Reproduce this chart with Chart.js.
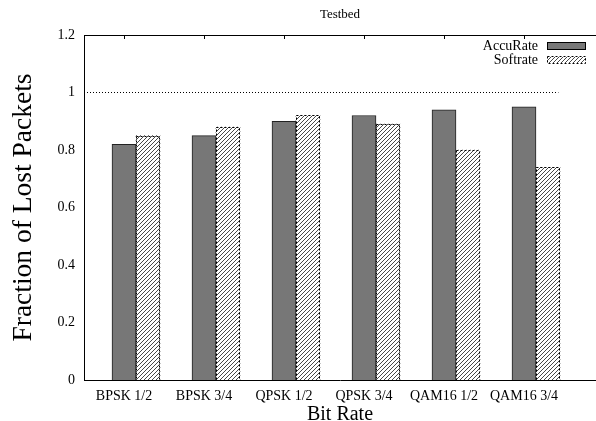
<!DOCTYPE html>
<html lang="en">
<head>
    <meta charset="UTF-8">
    <title>Testbed</title>
    <script src="https://cdn.jsdelivr.net/npm/chart.js"></script>
    <style>
        body { margin: 0; background: #fff; }
        .chart-box { width: 596px; height: 421px; }
    </style>
</head>
<body>
    <div class="chart-box">
        <canvas id="lossChart" width="596" height="421"></canvas>
    </div>

    <script>
        // data
        const categories = ['BPSK 1/2', 'BPSK 3/4', 'QPSK 1/2', 'QPSK 3/4', 'QAM16 1/2', 'QAM16 3/4'];
        const accuRate = [0.82, 0.85, 0.90, 0.92, 0.94, 0.95];
        const softRate = [0.85, 0.88, 0.92, 0.89, 0.80, 0.74];
        const refLineX = [-0.5, 5.43];
        const refLineY = 1;
        const yTicks = [0, 0.2, 0.4, 0.6, 0.8, 1, 1.2];

        const serif = "'Liberation Serif', 'Times New Roman', serif";

        function makeHatch() {
            const c = document.createElement('canvas');
            c.width = 4; c.height = 4;
            const g = c.getContext('2d');
            g.fillStyle = '#fff';
            g.fillRect(0, 0, 4, 4);
            g.strokeStyle = '#333';
            g.lineWidth = 0.9;
            g.beginPath();
            g.moveTo(0, 4); g.lineTo(4, 0);
            g.moveTo(-1, 1); g.lineTo(1, -1);
            g.moveTo(3, 5); g.lineTo(5, 3);
            g.stroke();
            return g.createPattern(c, 'repeat');
        }
        const hatch = makeHatch();

        // frame bits gnuplot draws that Chart.js doesn't: top border, inward ticks,
        // dashed outlines on hatched bars and the in-plot legend
        const framePlugin = {
            id: 'frame',
            beforeDatasetsDraw(chart) {
                const { ctx, chartArea, scales } = chart;
                ctx.save();
                ctx.strokeStyle = '#000';
                ctx.lineWidth = 1;
                ctx.beginPath();
                ctx.moveTo(chartArea.left, chartArea.top + 0.5);
                ctx.lineTo(chartArea.right, chartArea.top + 0.5);
                categories.forEach((c, i) => {
                    const px = Math.round(scales.x.getPixelForValue(i)) + 0.5;
                    ctx.moveTo(px, chartArea.top);
                    ctx.lineTo(px, chartArea.top + 4);
                    ctx.moveTo(px, chartArea.bottom);
                    ctx.lineTo(px, chartArea.bottom - 4);
                });
                ctx.stroke();
                ctx.restore();
            },
            afterDatasetsDraw(chart) {
                const { ctx } = chart;
                const meta = chart.getDatasetMeta(1);
                ctx.save();
                ctx.strokeStyle = '#000';
                ctx.lineWidth = 1;
                ctx.setLineDash([2, 2]);
                meta.data.forEach(bar => {
                    const { x, y, base, width } = bar.getProps(['x', 'y', 'base', 'width'], true);
                    ctx.strokeRect(Math.round(x - width / 2) + 0.5, Math.round(y) + 0.5, Math.round(width) - 1, Math.round(base - y));
                });
                ctx.restore();
            },
            afterDraw(chart) {
                const { ctx } = chart;
                const items = [
                    { label: chart.data.datasets[0].label, fill: chart.data.datasets[0].backgroundColor, dashed: false, y: 46 },
                    { label: chart.data.datasets[1].label, fill: hatch, dashed: true, y: 60 }
                ];
                ctx.save();
                ctx.font = '14px ' + serif;
                ctx.textAlign = 'right';
                ctx.textBaseline = 'middle';
                items.forEach(it => {
                    ctx.fillStyle = '#000';
                    ctx.fillText(it.label, 538, it.y);
                    ctx.fillStyle = it.fill;
                    ctx.fillRect(547, it.y - 3, 39, 6);
                    ctx.strokeStyle = '#000';
                    ctx.lineWidth = 1;
                    ctx.setLineDash(it.dashed ? [2, 2] : []);
                    ctx.strokeRect(547.5, it.y - 3.5, 38, 7);
                });
                ctx.restore();
            }
        };

        const ctx = document.getElementById('lossChart').getContext('2d');
        new Chart(ctx, {
            data: {
                datasets: [
                    {
                        type: 'bar',
                        label: 'AccuRate',
                        data: accuRate.map((v, i) => ({ x: i, y: v })),
                        backgroundColor: '#777777',
                        borderColor: '#222222',
                        borderWidth: 1,
                        barThickness: 24,
                        grouped: false
                    },
                    {
                        type: 'bar',
                        label: 'Softrate',
                        data: softRate.map((v, i) => ({ x: i + 0.3, y: v })),
                        backgroundColor: hatch,
                        borderWidth: 0,
                        barThickness: 24,
                        grouped: false
                    },
                    {
                        type: 'line',
                        label: 'ref',
                        data: refLineX.map(x => ({ x: x, y: refLineY })),
                        borderColor: '#000',
                        borderWidth: 1,
                        borderDash: [1, 2],
                        pointRadius: 0,
                        fill: false
                    }
                ]
            },
            options: {
                responsive: false,
                animation: false,
                layout: { padding: 0 },
                plugins: {
                    legend: { display: false },
                    tooltip: { enabled: false },
                    title: {
                        display: true,
                        fullSize: false,
                        text: 'Testbed',
                        color: '#000',
                        font: { family: serif, size: 13, weight: 'normal' },
                        padding: { top: 7, bottom: 12.4 }
                    }
                },
                scales: {
                    x: {
                        type: 'linear',
                        offset: false,
                        min: -0.5,
                        max: 5.9,
                        afterBuildTicks: s => { s.ticks = categories.map((c, i) => ({ value: i })); },
                        afterFit: s => { s.height = 41; },
                        grid: { display: false, drawTicks: false, tickLength: 0, offset: false },
                        border: { display: true, color: '#000', width: 1 },
                        ticks: {
                            autoSkip: false,
                            maxRotation: 0,
                            padding: 8,
                            color: '#000',
                            font: { family: serif, size: 14 },
                            callback: v => categories[v]
                        },
                        title: {
                            display: true,
                            text: 'Bit Rate',
                            color: '#000',
                            font: { family: serif, size: 20, lineHeight: 0.65 },
                            padding: { top: 0, bottom: 0 }
                        }
                    },
                    y: {
                        min: 0,
                        max: 1.2,
                        afterBuildTicks: s => { s.ticks = yTicks.map(v => ({ value: v })); },
                        afterFit: s => { s.width = 84; },
                        grid: { display: false, drawTicks: false, tickLength: 0 },
                        border: { display: true, color: '#000', width: 1 },
                        ticks: {
                            padding: 9,
                            color: '#000',
                            font: { family: serif, size: 14 },
                            callback: v => String(v)
                        },
                        title: {
                            display: true,
                            text: 'Fraction of Lost Packets',
                            color: '#000',
                            font: { family: serif, size: 27.5 },
                            padding: { top: 7, bottom: 0 }
                        }
                    }
                }
            },
            plugins: [framePlugin]
        });
    </script>
</body>
</html>
